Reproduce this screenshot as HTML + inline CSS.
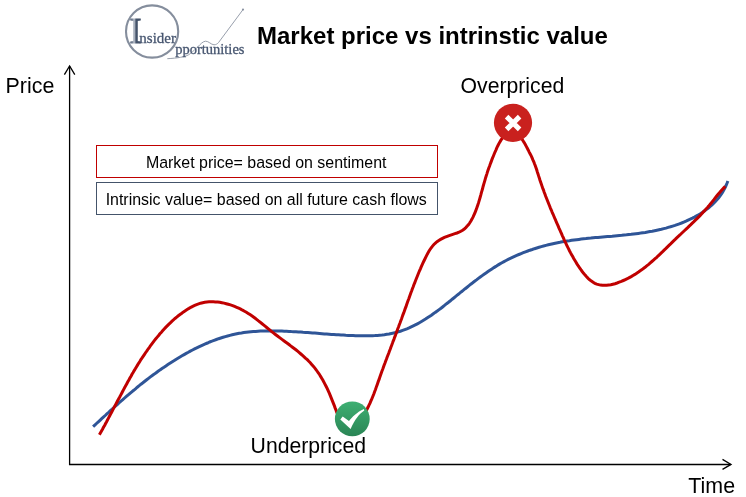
<!DOCTYPE html>
<html><head><meta charset="utf-8"><style>
html,body{margin:0;padding:0;background:#fff;}
body{width:746px;height:497px;overflow:hidden;position:relative;}
svg{position:absolute;left:0;top:0;will-change:transform;}
text{font-family:"Liberation Sans",Arial,sans-serif;fill:#000;}
.serif{font-family:"Liberation Serif","Times New Roman",serif;}
</style></head><body>
<svg width="746" height="497" viewBox="0 0 746 497">
<defs>
<linearGradient id="gg" x1="0" y1="0" x2="0" y2="1">
<stop offset="0" stop-color="#3DAF72"/><stop offset="1" stop-color="#2A8555"/>
</linearGradient>
<linearGradient id="ig" gradientUnits="userSpaceOnUse" x1="130" y1="0" x2="142" y2="0">
<stop offset="0" stop-color="#5A677C"/><stop offset="0.22" stop-color="#7C879A"/><stop offset="0.3" stop-color="#A9B1BE"/><stop offset="0.42" stop-color="#A9B1BE"/><stop offset="0.48" stop-color="#44536A"/><stop offset="1" stop-color="#44536A"/>
</linearGradient>
</defs>
<!-- logo -->
<circle cx="152.1" cy="31.5" r="26.1" fill="none" stroke="#858E9D" stroke-width="2.1"/>
<path d="M167.3,58.7 C172,58.4 177,58 180.6,57.3 C185,56.4 188,55.5 190.2,53.7 C193.5,51 196,48.5 198.3,46.4 C200.5,44 203,41.4 205.5,41.2 C208.5,41 211,44.6 214,44.8 C216,44.9 217.5,43.6 218.5,42.6 L243,9.6" fill="none" stroke="#8C94A3" stroke-width="0.9"/>
<circle cx="243" cy="9.6" r="1.1" fill="#8C94A3"/>
<text class="serif" x="129.4" y="42.7" font-size="36" style="fill:url(#ig);stroke:url(#ig);stroke-width:1">I</text>
<text class="serif" x="139.3" y="43" font-size="15" style="fill:#475670;stroke:#475670;stroke-width:0.3">nsider</text>
<text class="serif" x="175.2" y="53.7" font-size="14.5" style="fill:#475670;stroke:#475670;stroke-width:0.3">pportunities</text>
<!-- title -->
<text x="257" y="44" font-size="24" font-weight="bold">Market price vs intrinstic value</text>
<!-- axes -->
<path d="M69.6,465.1 V66" stroke="#000" stroke-width="1.3" fill="none"/>
<path d="M64.4,74.6 L69.6,66 L74.8,74.6" stroke="#000" stroke-width="1.3" fill="none"/>
<path d="M69,464.4 H730.5" stroke="#000" stroke-width="1.5" fill="none"/>
<path d="M722.5,459.4 L731,464.4 L722.5,469.4" stroke="#000" stroke-width="1.3" fill="none"/>
<text x="5.6" y="92.9" font-size="21.4">Price</text>
<text x="688.3" y="492.8" font-size="21.4">Time</text>
<!-- legend -->
<rect x="96.5" y="145.5" width="341" height="32" fill="#fff" stroke="#C00000" stroke-width="1"/>
<text x="266.2" y="168.2" font-size="15.95" text-anchor="middle">Market price= based on sentiment</text>
<rect x="96.5" y="182.5" width="341" height="32" fill="#fff" stroke="#44546A" stroke-width="1"/>
<text x="266.2" y="205.2" font-size="15.95" text-anchor="middle">Intrinsic value= based on all future cash flows</text>
<!-- curves -->
<path d="M93.1,426.7 L94.8,425.1 96.5,423.5 98.3,421.9 100.0,420.3 101.7,418.7 103.4,417.1 105.2,415.5 106.9,413.9 108.7,412.3 110.4,410.7 112.2,409.1 113.9,407.5 115.7,405.9 117.5,404.3 119.2,402.7 121.0,401.1 122.8,399.6 124.6,398.0 126.4,396.4 128.2,394.9 130.0,393.3 131.8,391.8 133.7,390.3 135.5,388.8 137.3,387.2 139.2,385.7 141.0,384.2 142.9,382.8 144.8,381.3 146.7,379.8 148.5,378.4 150.4,376.9 152.3,375.5 154.3,374.1 156.2,372.7 158.1,371.3 160.0,369.9 162.0,368.5 164.0,367.2 165.9,365.9 167.9,364.5 169.9,363.2 171.9,361.9 173.9,360.7 175.9,359.4 177.9,358.2 180.0,357.0 182.0,355.8 184.1,354.6 186.2,353.4 188.3,352.3 190.3,351.1 192.5,350.0 194.6,348.9 196.7,347.9 198.8,346.8 201.0,345.8 203.2,344.8 205.3,343.9 207.5,343.0 209.7,342.0 211.9,341.2 214.1,340.3 216.4,339.5 218.6,338.7 220.8,338.0 223.1,337.3 225.4,336.6 227.6,336.0 229.9,335.4 232.2,334.8 234.5,334.3 236.8,333.8 239.2,333.3 241.5,333.0 243.8,332.6 246.2,332.3 248.5,332.0 250.9,331.8 253.3,331.6 255.6,331.4 258.0,331.2 260.4,331.1 262.8,331.0 265.2,331.0 267.6,330.9 269.9,330.9 272.3,330.9 274.7,331.0 277.1,331.0 279.5,331.1 281.9,331.1 284.2,331.2 286.6,331.3 289.0,331.4 291.3,331.6 293.7,331.7 296.0,331.8 298.4,332.0 300.8,332.1 303.1,332.3 305.5,332.4 307.8,332.6 310.2,332.8 312.5,333.0 314.9,333.1 317.3,333.3 319.6,333.5 322.0,333.7 324.4,333.9 326.7,334.0 329.1,334.2 331.5,334.4 333.9,334.5 336.2,334.7 338.6,334.8 341.0,335.0 343.4,335.1 345.8,335.3 348.2,335.4 350.6,335.5 353.1,335.6 355.5,335.7 357.9,335.8 360.4,335.8 362.8,335.8 365.2,335.8 367.6,335.8 370.1,335.8 372.5,335.7 374.9,335.6 377.3,335.4 379.7,335.2 382.0,335.0 384.4,334.7 386.8,334.3 389.1,334.0 391.4,333.5 393.7,333.0 395.9,332.5 398.2,331.8 400.4,331.2 402.6,330.4 404.8,329.6 406.9,328.8 409.1,327.9 411.2,326.9 413.3,325.9 415.3,324.9 417.4,323.8 419.4,322.7 421.5,321.5 423.5,320.3 425.5,319.1 427.4,317.8 429.4,316.5 431.4,315.2 433.3,313.8 435.2,312.4 437.2,311.0 439.1,309.6 441.0,308.2 442.9,306.7 444.8,305.2 446.6,303.7 448.5,302.3 450.4,300.8 452.2,299.2 454.1,297.7 456.0,296.2 457.8,294.7 459.7,293.2 461.5,291.7 463.4,290.2 465.2,288.7 467.1,287.2 469.0,285.7 470.8,284.2 472.7,282.8 474.6,281.3 476.5,279.9 478.4,278.4 480.3,277.0 482.2,275.6 484.1,274.2 486.0,272.9 488.0,271.5 489.9,270.2 491.9,268.9 493.9,267.6 495.9,266.4 497.9,265.1 499.9,263.9 501.9,262.8 504.0,261.6 506.1,260.5 508.2,259.4 510.3,258.4 512.4,257.4 514.6,256.4 516.7,255.4 518.9,254.5 521.1,253.6 523.3,252.7 525.5,251.8 527.8,251.0 530.0,250.2 532.2,249.5 534.5,248.7 536.8,248.0 539.1,247.3 541.3,246.6 543.6,246.0 545.9,245.4 548.3,244.8 550.6,244.2 552.9,243.7 555.2,243.2 557.6,242.7 559.9,242.3 562.3,241.8 564.6,241.4 567.0,241.0 569.4,240.7 571.7,240.3 574.1,240.0 576.5,239.7 578.9,239.4 581.2,239.1 583.6,238.8 586.0,238.6 588.4,238.3 590.8,238.1 593.2,237.8 595.5,237.6 597.9,237.4 600.3,237.2 602.7,237.0 605.1,236.8 607.5,236.6 609.9,236.4 612.2,236.2 614.6,235.9 617.0,235.7 619.4,235.5 621.8,235.3 624.1,235.0 626.5,234.8 628.9,234.5 631.2,234.3 633.6,234.0 635.9,233.7 638.3,233.4 640.6,233.1 643.0,232.7 645.3,232.4 647.6,232.0 649.9,231.6 652.2,231.2 654.6,230.7 656.9,230.2 659.1,229.7 661.4,229.2 663.7,228.6 666.0,228.1 668.2,227.4 670.5,226.8 672.7,226.1 675.0,225.4 677.2,224.6 679.4,223.8 681.6,223.0 683.8,222.1 686.0,221.2 688.1,220.2 690.3,219.2 692.4,218.2 694.5,217.1 696.6,215.9 698.7,214.7 700.7,213.5 702.7,212.2 704.6,210.8 706.6,209.4 708.4,208.0 710.2,206.4 712.0,204.9 713.7,203.2 715.4,201.5 716.9,199.8 718.5,198.0 719.9,196.1 721.3,194.1 722.6,192.1 723.8,190.0 725.0,187.9 726.0,185.6 727.0,183.3 727.9,181.0" fill="none" stroke="#2F5597" stroke-width="3"/>
<path d="M99.4,434.8 L100.4,432.9 101.5,431.0 102.5,429.2 103.5,427.3 104.6,425.4 105.6,423.5 106.6,421.7 107.6,419.8 108.6,417.9 109.6,416.0 110.6,414.1 111.6,412.2 112.6,410.3 113.6,408.4 114.6,406.5 115.6,404.6 116.6,402.7 117.6,400.8 118.6,398.9 119.7,397.0 120.7,395.1 121.7,393.2 122.7,391.3 123.7,389.4 124.7,387.5 125.8,385.6 126.8,383.7 127.8,381.8 128.9,379.9 129.9,378.1 131.0,376.2 132.0,374.3 133.1,372.5 134.2,370.6 135.3,368.8 136.4,366.9 137.5,365.1 138.6,363.3 139.8,361.5 140.9,359.6 142.1,357.9 143.3,356.1 144.5,354.3 145.7,352.5 146.9,350.8 148.1,349.0 149.4,347.3 150.6,345.5 151.9,343.8 153.2,342.1 154.5,340.4 155.8,338.8 157.2,337.1 158.6,335.5 159.9,333.8 161.4,332.2 162.8,330.6 164.2,329.0 165.7,327.4 167.2,325.9 168.7,324.4 170.3,322.9 171.8,321.4 173.4,320.0 175.0,318.5 176.7,317.1 178.3,315.8 180.0,314.5 181.8,313.2 183.5,311.9 185.3,310.7 187.1,309.5 189.0,308.4 190.8,307.3 192.7,306.3 194.7,305.4 196.6,304.6 198.6,303.9 200.6,303.2 202.7,302.7 204.8,302.3 206.9,302.0 209.0,301.8 211.1,301.8 213.3,301.8 215.4,301.9 217.6,302.1 219.8,302.3 221.9,302.7 224.1,303.1 226.2,303.7 228.3,304.3 230.5,304.9 232.6,305.6 234.6,306.4 236.7,307.3 238.7,308.2 240.7,309.1 242.6,310.2 244.5,311.2 246.4,312.3 248.2,313.4 250.0,314.6 251.8,315.8 253.5,317.0 255.2,318.3 256.9,319.6 258.5,320.9 260.2,322.2 261.8,323.5 263.5,324.9 265.1,326.2 266.7,327.5 268.4,328.9 270.0,330.2 271.7,331.6 273.4,332.9 275.1,334.2 276.8,335.5 278.5,336.8 280.3,338.1 282.0,339.4 283.8,340.7 285.5,341.9 287.3,343.2 289.0,344.5 290.7,345.9 292.5,347.2 294.2,348.5 295.9,349.8 297.6,351.2 299.3,352.6 300.9,354.0 302.5,355.4 304.1,356.8 305.7,358.3 307.3,359.7 308.8,361.3 310.3,362.8 311.7,364.4 313.1,366.0 314.5,367.6 315.8,369.3 317.0,371.0 318.3,372.8 319.5,374.5 320.6,376.4 321.7,378.2 322.8,380.1 323.8,381.9 324.8,383.9 325.8,385.8 326.8,387.7 327.7,389.7 328.6,391.7 329.5,393.6 330.3,395.6 331.1,397.6 331.9,399.6 332.7,401.6 333.5,403.6 334.3,405.6 335.0,407.6 335.8,409.6 336.5,411.6 337.3,413.5 338.3,415.4 339.3,417.3 340.4,419.2 341.7,421.0 343.3,422.8 345.0,424.5 346.8,426.0 348.7,427.1 350.6,427.6 352.4,427.5 354.1,426.7 355.7,425.5 357.2,423.9 358.6,422.1 360.0,420.4 361.3,418.5 362.5,416.7 363.7,414.8 364.9,413.0 366.0,411.1 367.0,409.2 368.0,407.3 368.9,405.3 369.9,403.4 370.7,401.4 371.6,399.4 372.4,397.5 373.2,395.5 374.0,393.5 374.7,391.5 375.5,389.5 376.2,387.4 376.9,385.4 377.6,383.4 378.3,381.4 379.1,379.4 379.8,377.3 380.5,375.3 381.2,373.3 381.9,371.3 382.7,369.3 383.4,367.3 384.1,365.3 384.9,363.2 385.6,361.2 386.4,359.2 387.1,357.2 387.9,355.2 388.7,353.2 389.4,351.2 390.2,349.2 390.9,347.2 391.7,345.2 392.5,343.1 393.2,341.1 394.0,339.1 394.7,337.1 395.5,335.1 396.2,333.1 397.0,331.1 397.7,329.0 398.5,327.0 399.2,325.0 400.0,323.0 400.7,321.0 401.5,319.0 402.2,316.9 402.9,314.9 403.7,312.9 404.4,310.9 405.1,308.9 405.9,306.9 406.6,304.8 407.3,302.8 408.0,300.8 408.8,298.8 409.5,296.8 410.2,294.8 410.9,292.8 411.7,290.8 412.4,288.8 413.2,286.8 413.9,284.7 414.7,282.8 415.5,280.8 416.3,278.8 417.1,276.8 417.9,274.8 418.7,272.8 419.5,270.8 420.4,268.8 421.2,266.9 422.1,264.9 423.0,262.9 423.9,261.0 424.9,259.0 425.8,257.1 426.8,255.1 427.8,253.2 428.9,251.3 430.0,249.5 431.2,247.8 432.5,246.1 433.9,244.5 435.4,243.1 437.0,241.7 438.8,240.5 440.6,239.4 442.5,238.4 444.4,237.4 446.5,236.6 448.5,235.8 450.6,235.1 452.8,234.4 454.9,233.7 457.0,233.0 459.0,232.2 460.9,231.3 462.6,230.2 464.3,229.0 465.8,227.6 467.2,226.1 468.6,224.5 469.8,222.8 470.9,221.0 472.0,219.1 473.0,217.2 473.9,215.2 474.8,213.2 475.6,211.1 476.4,209.1 477.1,207.0 477.8,205.0 478.5,202.9 479.1,200.9 479.7,198.8 480.3,196.8 480.9,194.7 481.4,192.7 482.0,190.6 482.6,188.5 483.1,186.5 483.7,184.4 484.3,182.4 484.9,180.3 485.5,178.2 486.1,176.2 486.8,174.1 487.4,172.1 488.1,170.0 488.8,168.0 489.6,166.0 490.3,163.9 491.1,161.9 491.8,159.9 492.6,157.9 493.4,156.0 494.2,154.0 495.0,152.0 495.9,150.1 496.7,148.2 497.6,146.2 498.6,144.3 499.6,142.4 500.8,140.4 502.1,138.4 503.6,136.4 505.2,134.6 506.8,133.0 508.5,131.8 510.3,130.9 512.0,130.7 513.8,131.0 515.5,131.9 517.2,133.2 518.8,134.9 520.3,136.7 521.7,138.7 523.0,140.7 524.2,142.6 525.3,144.5 526.3,146.4 527.3,148.3 528.3,150.2 529.2,152.1 530.2,154.0 531.2,155.9 532.1,157.9 532.9,159.9 533.8,161.8 534.5,163.8 535.3,165.8 536.0,167.8 536.7,169.8 537.3,171.9 538.0,173.9 538.6,175.9 539.3,177.9 539.9,180.0 540.6,182.0 541.3,184.0 542.0,186.1 542.7,188.1 543.5,190.1 544.2,192.2 545.0,194.2 545.7,196.2 546.5,198.2 547.3,200.2 548.1,202.3 548.9,204.3 549.7,206.3 550.5,208.3 551.4,210.3 552.2,212.3 553.1,214.3 553.9,216.3 554.7,218.2 555.6,220.2 556.4,222.2 557.3,224.1 558.2,226.1 559.0,228.1 559.9,230.0 560.7,231.9 561.6,233.9 562.4,235.8 563.3,237.7 564.1,239.6 565.0,241.5 565.9,243.4 566.8,245.3 567.7,247.2 568.7,249.1 569.6,251.0 570.6,252.9 571.6,254.7 572.7,256.6 573.7,258.5 574.8,260.3 576.0,262.2 577.1,264.1 578.3,266.0 579.6,267.8 580.9,269.7 582.2,271.5 583.6,273.3 585.1,275.1 586.6,276.8 588.1,278.4 589.7,279.8 591.4,281.1 593.1,282.3 594.9,283.3 596.7,284.1 598.6,284.6 600.5,285.1 602.5,285.3 604.6,285.3 606.6,285.3 608.7,285.0 610.8,284.7 612.9,284.2 615.0,283.7 617.1,283.0 619.2,282.2 621.3,281.4 623.4,280.5 625.4,279.6 627.3,278.7 629.3,277.6 631.2,276.6 633.0,275.5 634.9,274.4 636.7,273.2 638.5,272.0 640.2,270.8 642.0,269.6 643.7,268.3 645.4,267.0 647.0,265.7 648.7,264.3 650.3,262.9 651.9,261.5 653.5,260.1 655.1,258.7 656.7,257.3 658.2,255.8 659.8,254.3 661.3,252.9 662.9,251.4 664.4,249.9 666.0,248.4 667.5,246.9 669.0,245.4 670.6,243.9 672.1,242.4 673.6,240.9 675.2,239.4 676.7,237.9 678.3,236.4 679.9,235.0 681.4,233.5 683.0,232.0 684.6,230.5 686.1,229.1 687.7,227.6 689.2,226.1 690.8,224.6 692.3,223.1 693.9,221.6 695.4,220.1 697.0,218.6 698.5,217.1 700.0,215.6 701.5,214.0 702.9,212.4 704.4,210.9 705.8,209.3 707.3,207.7 708.7,206.1 710.0,204.4 711.4,202.8 712.7,201.1 714.1,199.4 715.4,197.7 716.7,196.0 718.1,194.3 719.5,192.7 720.9,191.1 722.3,189.5 723.8,187.9 725.3,186.4" fill="none" stroke="#C00000" stroke-width="3"/>
<!-- markers -->
<circle cx="513" cy="122.8" r="19.1" fill="#C9211E"/>
<path d="M506.6,116.6 L519.6,129.4 M519.6,116.6 L506.6,129.4" stroke="#fff" stroke-width="5"/>
<circle cx="352.3" cy="418.9" r="17.4" fill="url(#gg)"/>
<path d="M342.7,416.5 L349,421 C352,417.3 357,412 363.9,409 L364.3,410.4 C359,414 355,419 350.6,429 L340.3,419.5 Z" fill="#fff"/>
<text x="460.6" y="92.6" font-size="21.2">Overpriced</text>
<text x="250.6" y="452.8" font-size="21.2">Underpriced</text>
</svg>
</body></html>
